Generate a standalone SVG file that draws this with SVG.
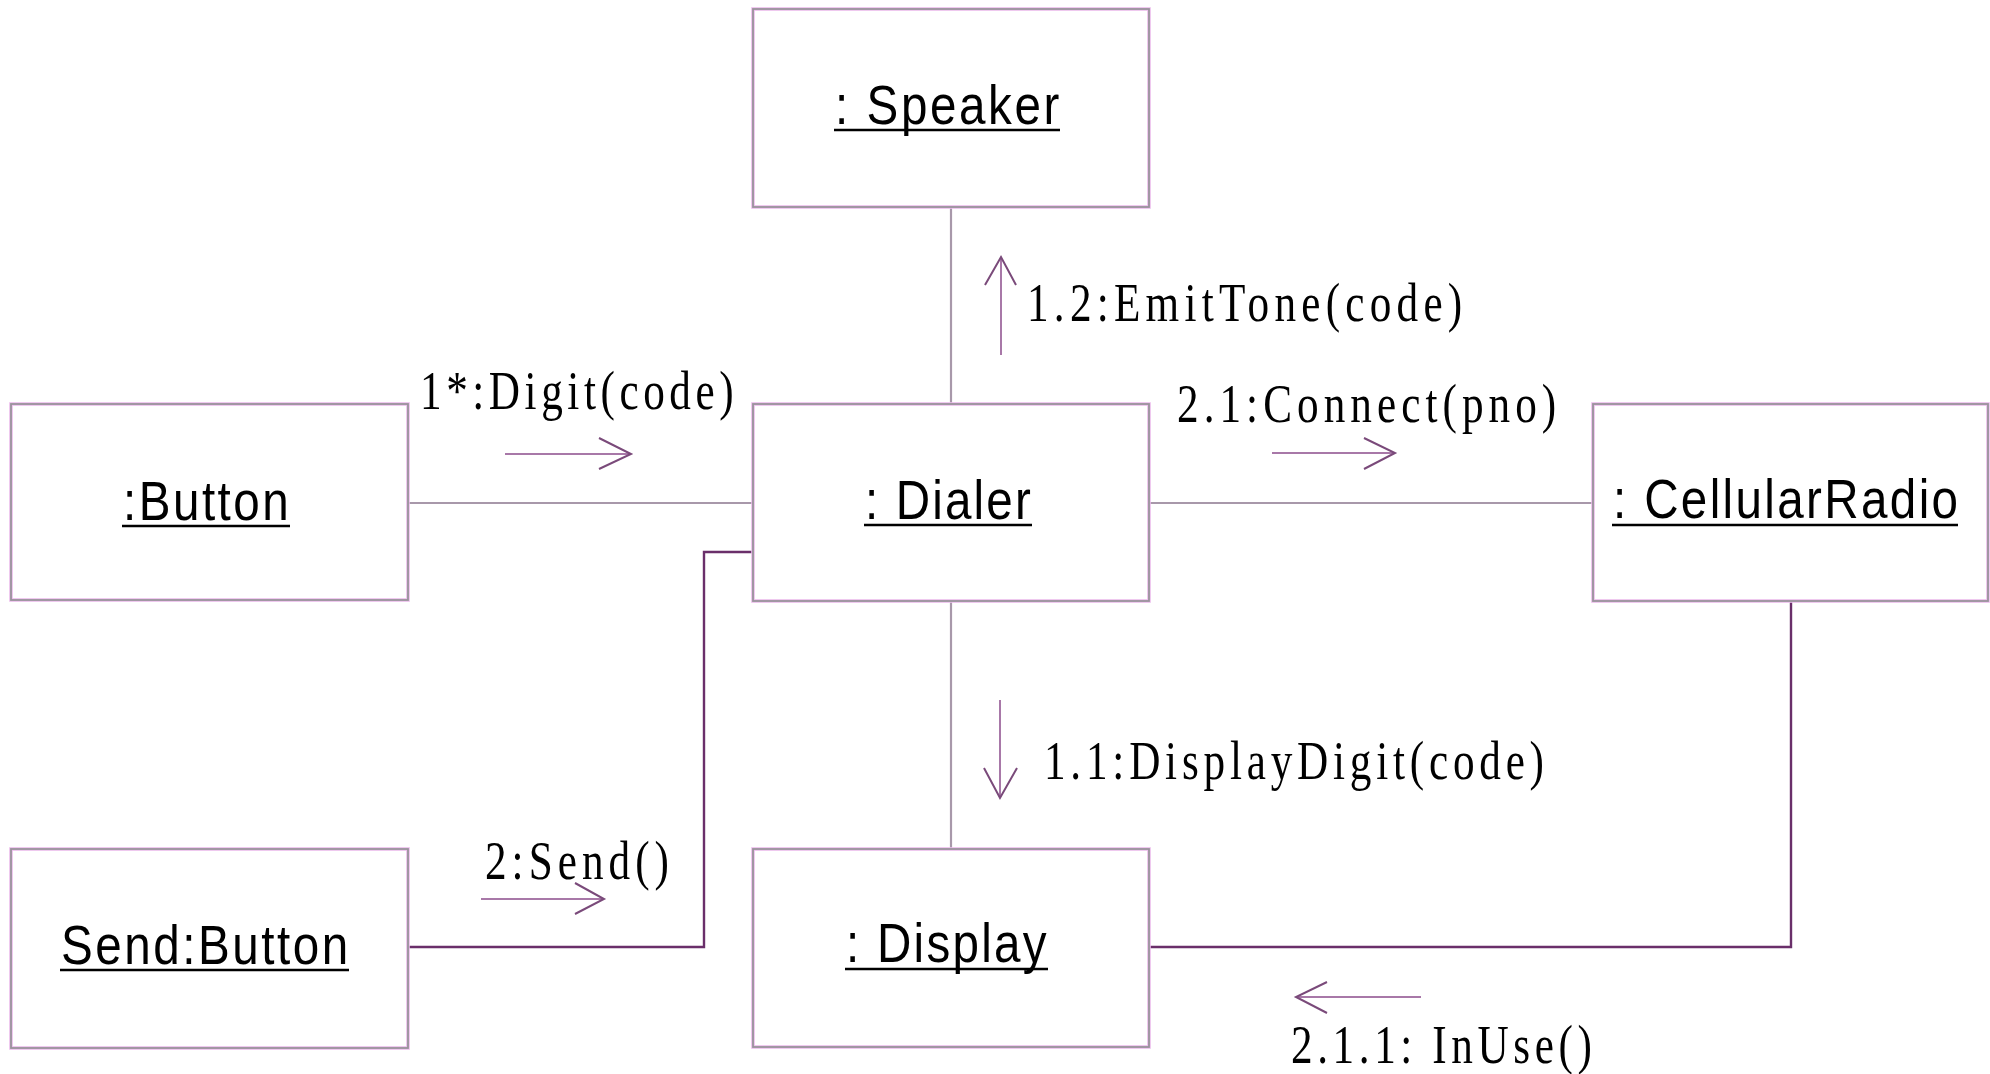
<svg xmlns="http://www.w3.org/2000/svg" width="1990" height="1074" viewBox="0 0 1990 1074">
<style>
.halo{fill:none;stroke:#ecbcec;stroke-width:3.6}
.box{fill:none;stroke:#9a939c;stroke-width:1.8}
.lbl{font-family:"Liberation Sans",Arial,sans-serif;font-size:56px;fill:#000}
.ul{stroke:#000;stroke-width:2.6}
.msg{font-family:"Liberation Serif","Times New Roman",serif;font-size:54px;fill:#000}
.conn{fill:none;stroke:#a898aa;stroke-width:2.2}
.dark{fill:none;stroke:#6a2f6a;stroke-width:2.4}
.arr{fill:none;stroke:#a878a8;stroke-width:2}
.head{fill:none;stroke:#7a4a7a;stroke-width:2}
</style>
<rect width="1990" height="1074" fill="#fff"/>
<g id="connectors">
<line class="conn" x1="951" y1="207" x2="951" y2="404"/>
<line class="conn" x1="408" y1="503" x2="753" y2="503"/>
<line class="conn" x1="1149" y1="503" x2="1593" y2="503"/>
<line class="conn" x1="951" y1="601" x2="951" y2="849"/>
<polyline class="dark" points="408,947 704,947 704,552 753,552"/>
<polyline class="dark" points="1149,947 1791,947 1791,601"/>
<g id="msg-digit">
<line class="arr" x1="505" y1="454" x2="630" y2="454"/>
<polyline class="head" points="599,438 631,454 599,469"/>
<text class="msg" transform="translate(420,409) scale(0.8,1)" textLength="392" lengthAdjust="spacing">1*:Digit(code)</text>
</g>
<g id="msg-connect">
<line class="arr" x1="1272" y1="453" x2="1394" y2="453"/>
<polyline class="head" points="1364,438 1395,453 1364,469"/>
<text class="msg" transform="translate(1177,422) scale(0.8,1)" textLength="474" lengthAdjust="spacing">2.1:Connect(pno)</text>
</g>
<g id="msg-emittone">
<line class="arr" x1="1001" y1="355" x2="1001" y2="258"/>
<polyline class="head" points="985,285 1001,257 1016,285"/>
<text class="msg" transform="translate(1027,321) scale(0.8,1)" textLength="544" lengthAdjust="spacing">1.2:EmitTone(code)</text>
</g>
<g id="msg-displaydigit">
<line class="arr" x1="1000" y1="700" x2="1000" y2="797"/>
<polyline class="head" points="984,768 1000,798 1017,768"/>
<text class="msg" transform="translate(1044,779) scale(0.8,1)" textLength="625" lengthAdjust="spacing">1.1:DisplayDigit(code)</text>
</g>
<g id="msg-send">
<line class="arr" x1="481" y1="899" x2="603" y2="899"/>
<polyline class="head" points="575,883 604,899 575,914"/>
<text class="msg" transform="translate(485,879) scale(0.8,1)" textLength="230" lengthAdjust="spacing">2:Send()</text>
</g>
<g id="msg-inuse">
<line class="arr" x1="1421" y1="997" x2="1297" y2="997"/>
<polyline class="head" points="1327,982 1296,997 1327,1013"/>
<text class="msg" transform="translate(1291,1063) scale(0.8,1)" textLength="376" lengthAdjust="spacing">2.1.1: InUse()</text>
</g>
</g>
<g id="speaker">
<rect class="halo" x="753" y="9" width="396" height="198"/>
<rect class="box" x="753" y="9" width="396" height="198"/>
<text class="lbl" transform="translate(835,124) scale(0.85,1)" textLength="264" lengthAdjust="spacing">: Speaker</text>
<line class="ul" x1="834" y1="130" x2="1060" y2="130"/>
</g>
<g id="button">
<rect class="halo" x="11" y="404" width="397" height="196"/>
<rect class="box" x="11" y="404" width="397" height="196"/>
<text class="lbl" transform="translate(123,520) scale(0.85,1)" textLength="195" lengthAdjust="spacing">:Button</text>
<line class="ul" x1="122" y1="526" x2="290" y2="526"/>
</g>
<g id="dialer">
<rect class="halo" x="753" y="404" width="396" height="197"/>
<rect class="box" x="753" y="404" width="396" height="197"/>
<text class="lbl" transform="translate(865,519) scale(0.85,1)" textLength="195" lengthAdjust="spacing">: Dialer</text>
<line class="ul" x1="864" y1="525" x2="1032" y2="525"/>
</g>
<g id="cellularradio">
<rect class="halo" x="1593" y="404" width="395" height="197"/>
<rect class="box" x="1593" y="404" width="395" height="197"/>
<text class="lbl" transform="translate(1613,518) scale(0.85,1)" textLength="406" lengthAdjust="spacing">: CellularRadio</text>
<line class="ul" x1="1612" y1="525" x2="1958" y2="525"/>
</g>
<g id="sendbutton">
<rect class="halo" x="11" y="849" width="397" height="199"/>
<rect class="box" x="11" y="849" width="397" height="199"/>
<text class="lbl" transform="translate(61,964) scale(0.85,1)" textLength="338" lengthAdjust="spacing">Send:Button</text>
<line class="ul" x1="60" y1="970" x2="349" y2="970"/>
</g>
<g id="display">
<rect class="halo" x="753" y="849" width="396" height="198"/>
<rect class="box" x="753" y="849" width="396" height="198"/>
<text class="lbl" transform="translate(846,962) scale(0.85,1)" textLength="236" lengthAdjust="spacing">: Display</text>
<line class="ul" x1="845" y1="969" x2="1048" y2="969"/>
</g>
</svg>
